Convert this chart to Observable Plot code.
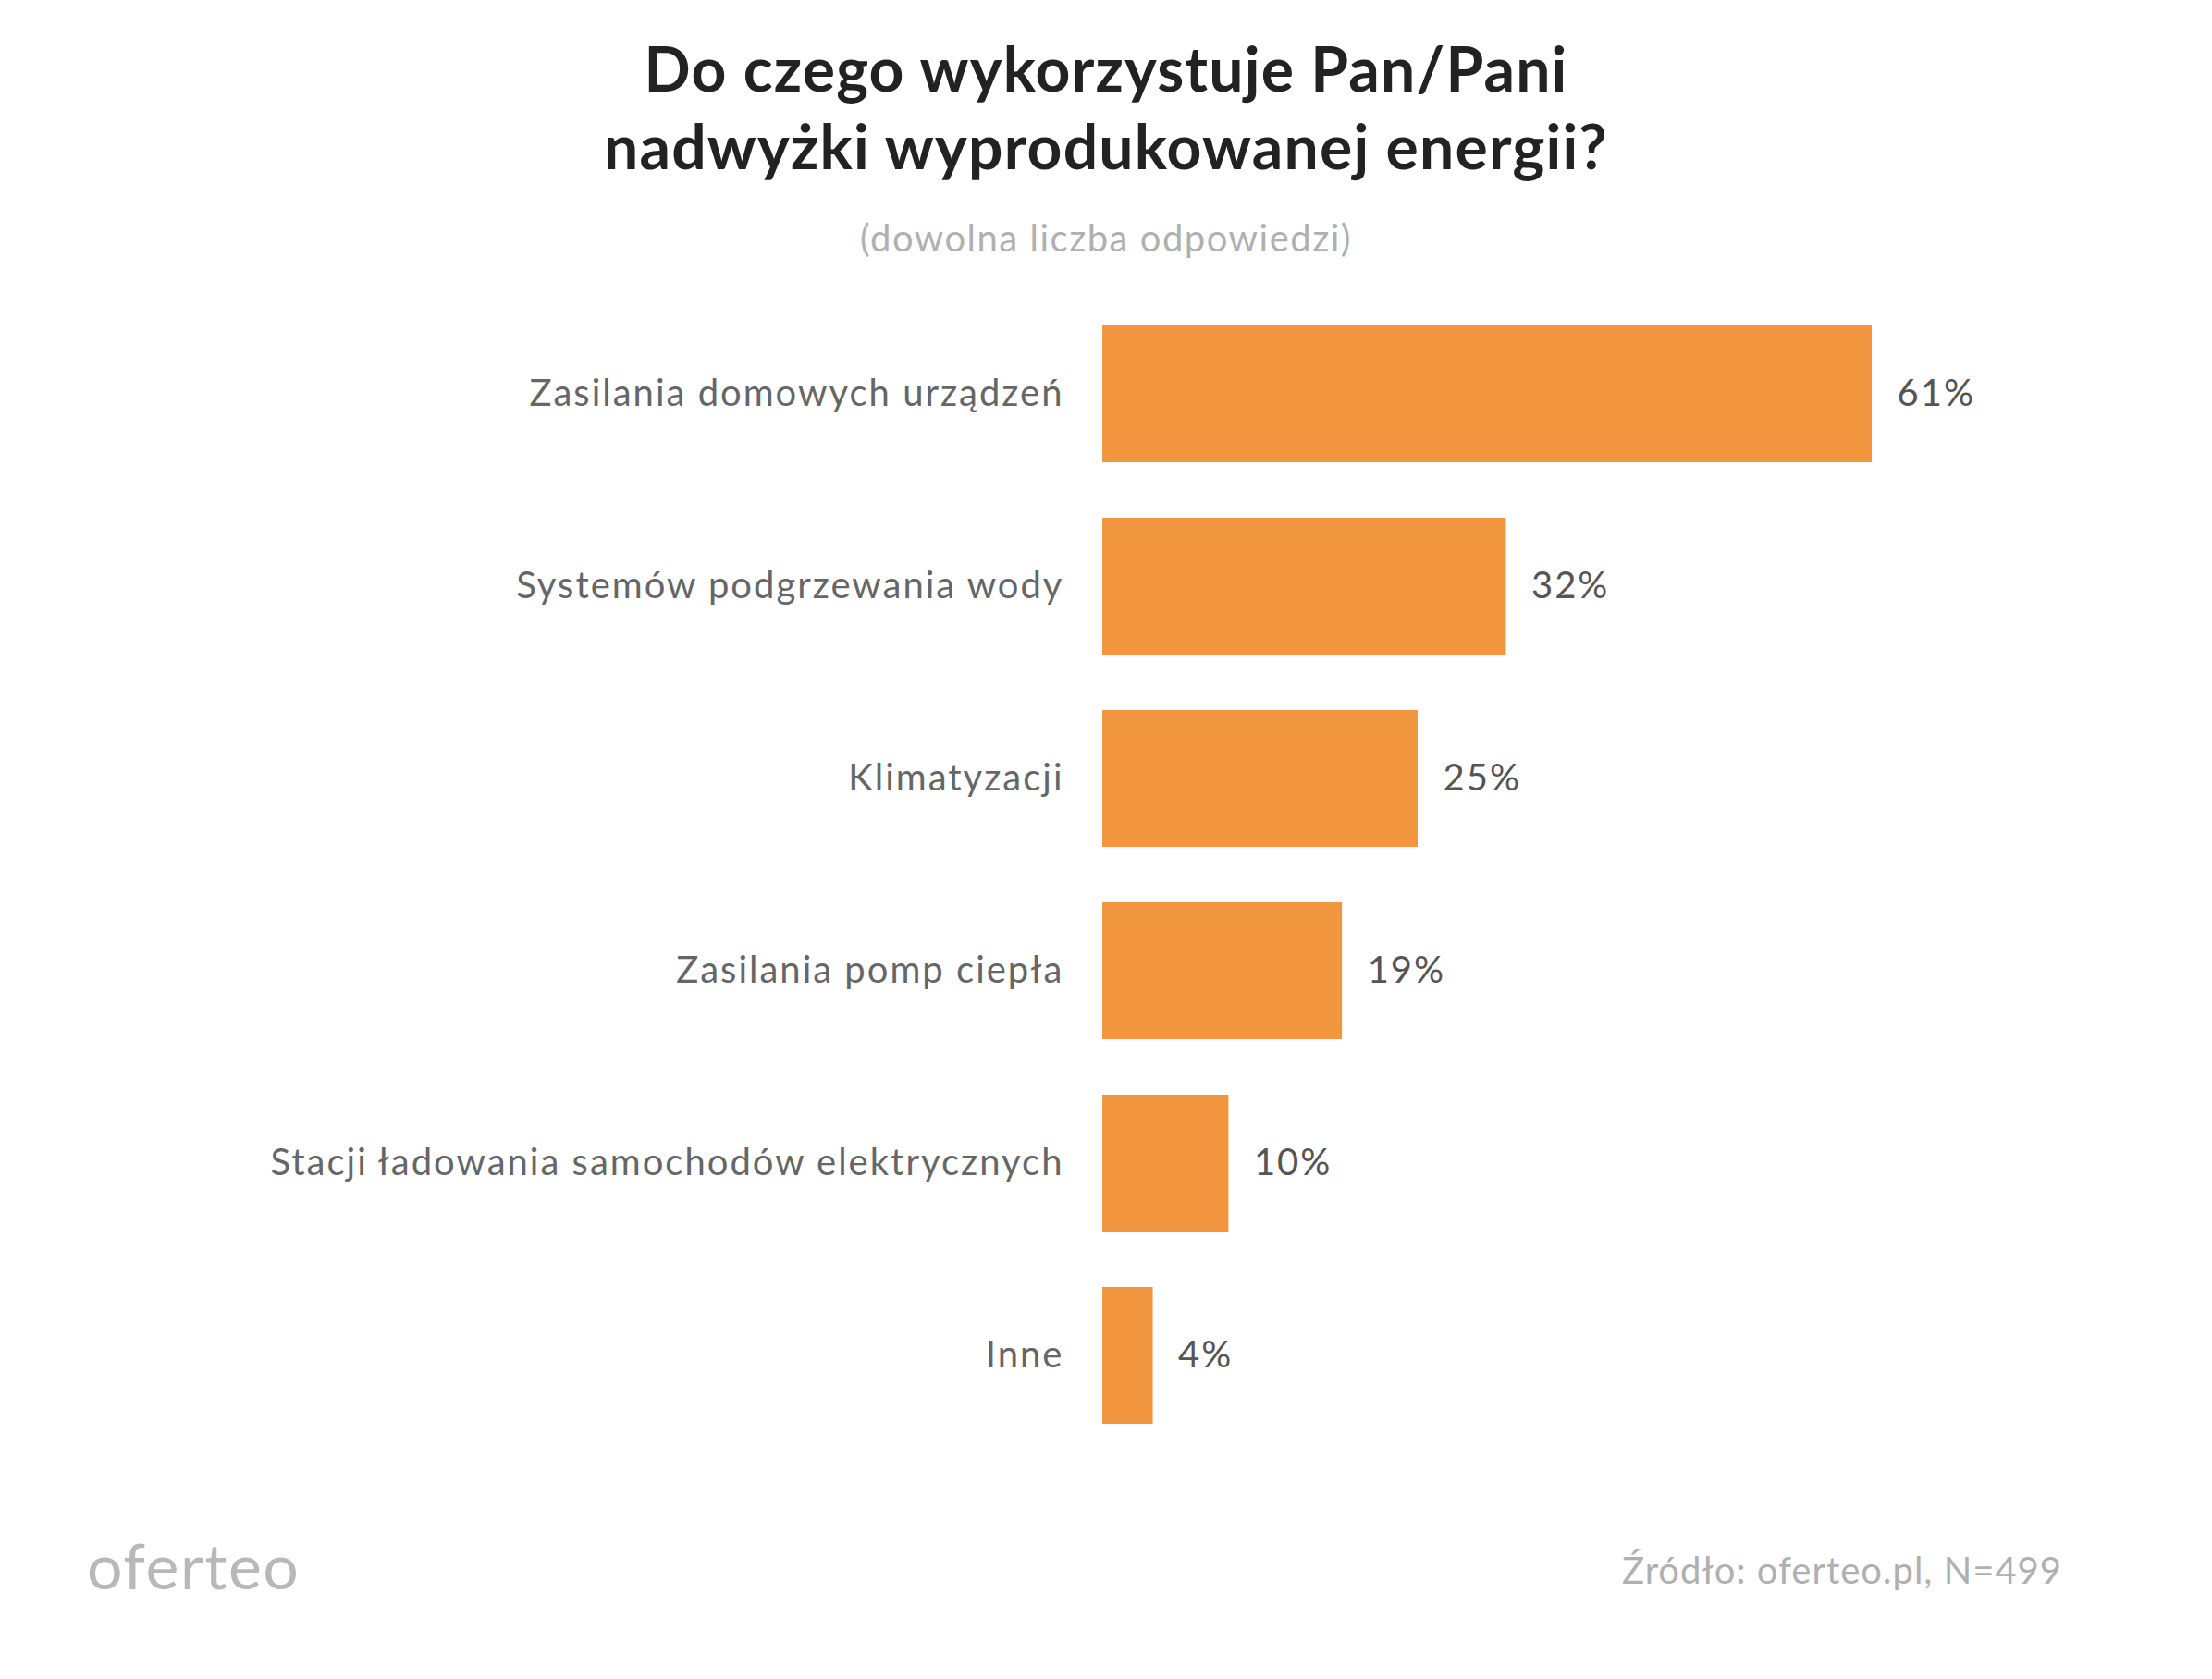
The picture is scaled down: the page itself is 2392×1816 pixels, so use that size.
<!DOCTYPE html>
<html>
<head>
<meta charset="utf-8">
<script src="https://cdn.jsdelivr.net/npm/d3@7"></script>
<script src="https://cdn.jsdelivr.net/npm/@observablehq/plot@0.6"></script>
<style>
  html, body { margin: 0; padding: 0; background: #fff; }
  #page { position: relative; width: 2392px; height: 1816px; font-family: Lato, "Noto Sans", sans-serif; }
  #title { position: absolute; left: 0; width: 2392px; top: 32px; text-align: center; font-weight: 700; font-size: 66px; line-height: 84px; color: #222; letter-spacing: 1.2px; }
  #subtitle { position: absolute; left: 0; width: 2392px; top: 233px; text-align: center; font-size: 40px; color: #b0b0b0; letter-spacing: 1.5px; }
  #chart { position: absolute; left: 0; top: 0; }
  #logo { position: absolute; left: 94px; top: 1652px; font-size: 68px; color: #b8b8b8; letter-spacing: 1.5px; }
  #source { position: absolute; right: 162px; top: 1674px; font-size: 40px; color: #b0b0b0; letter-spacing: 1px; }
</style>
</head>
<body>
<div id="page">
  <div id="chart"></div>
  <div id="title">Do czego wykorzystuje Pan/Pani<br>nadwyżki wyprodukowanej energii?</div>
  <div id="subtitle">(dowolna liczba odpowiedzi)</div>
  <div id="logo">oferteo</div>
  <div id="source">Źródło: oferteo.pl, N=499</div>
</div>
<script>
const categories = [
  "Zasilania domowych urządzeń",
  "Systemów podgrzewania wody",
  "Klimatyzacji",
  "Zasilania pomp ciepła",
  "Stacji ładowania samochodów elektrycznych",
  "Inne"
];
const values = [61, 32, 25, 19, 10, 4];

const data = categories.map((c, i) => ({category: c, value: values[i]}));

const chart = Plot.plot({
  width: 2392,
  height: 1816,
  marginLeft: 1192,
  marginRight: 368,
  marginTop: 292,
  marginBottom: 1816 - 292 - 1308,
  style: {fontFamily: "Lato, 'Noto Sans', sans-serif", color: "#666", background: "transparent", letterSpacing: "2px"},
  x: {domain: [0, 61], axis: null},
  y: {domain: categories, padding: 0.288, label: null},
  marks: [
    Plot.barX(data, {x: "value", y: "category", fill: "#F2963F"}),
    Plot.text(data, {x: "value", y: "category", text: d => d.value + "%", dx: 27, textAnchor: "start", fontSize: 40, fill: "#555"}),
    Plot.axisY({tickSize: 0, tickPadding: 42, fontSize: 40, label: null})
  ]
});
document.getElementById("chart").appendChild(chart);
</script>
</body>
</html>
